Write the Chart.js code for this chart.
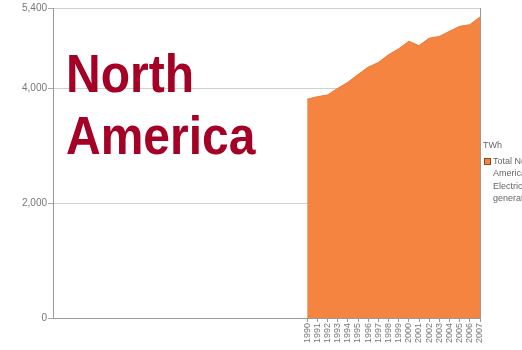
<!DOCTYPE html>
<html>
<head>
<meta charset="utf-8">
<script src="https://cdn.jsdelivr.net/npm/chart.js@4/dist/chart.umd.min.js"></script>
<style>
    html, body { margin: 0; padding: 0; background: #fff; overflow: hidden; }
    #wrap { position: relative; width: 522px; height: 350px; overflow: hidden; }
    #titulo {
        position: absolute; left: 66px; top: 43px;
        font: bold 48px "Liberation Sans", Arial, sans-serif;
        line-height: 55px; color: #a50026;
        transform: scaleY(1.12); transform-origin: 0 0;
        pointer-events: none;
    }
    #leyenda {
        position: absolute; left: 483px; top: 139px; width: 80px;
        font: 9px "Liberation Sans", Arial, sans-serif; color: #666;
        line-height: 12.5px; white-space: nowrap;
    }
    #leyenda .item { position: relative; padding-left: 10px; margin-top: 3px; }
    #leyenda .cuadro {
        position: absolute; left: 1px; top: 3px; width: 5px; height: 5px;
        background: #f4843f; border: 1px solid #8a4a20;
    }
</style>
</head>
<body>
<div id="wrap">
    <canvas id="chartGeneracion" width="522" height="350"></canvas>
    <div id="titulo">North<br>America</div>
    <div id="leyenda">
        <div>TWh</div>
        <div class="item"><span class="cuadro"></span>Total North<br>America<br>Electricity<br>generation</div>
    </div>
</div>
<script>
    // años con datos y generación total (TWh)
    const anios = ['1990', '1991', '1992', '1993', '1994', '1995', '1996', '1997', '1998',
        '1999', '2000', '2001', '2002', '2003', '2004', '2005', '2006', '2007'];
    const generacion = [3810, 3855, 3885, 4000, 4105, 4240, 4370, 4450, 4585,
        4690, 4820, 4745, 4875, 4905, 4995, 5080, 5110, 5245];
    // años vacíos al inicio del eje (sin etiqueta ni dato)
    const aniosVacios = 25;
    const ticksY = [0, 2000, 4000, 5400];

    let etiquetas = Array(aniosVacios).fill('').concat(anios);
    let datos = Array(aniosVacios).fill(null).concat(generacion);

    let ctx = document.getElementById('chartGeneracion').getContext('2d');
    let chartGeneracion = new Chart(ctx, {
        type: 'line',
        data: {
            labels: etiquetas,
            datasets: [{
                label: 'Total North America Electricity generation',
                data: datos,
                fill: 'origin',
                backgroundColor: '#f4843f',
                borderColor: '#e87a38',
                borderWidth: 1,
                pointRadius: 0,
                tension: 0,
                spanGaps: false
            }]
        },
        options: {
            responsive: false,
            animation: false,
            layout: { padding: { top: 8, right: 42, left: 0, bottom: 0 } },
            plugins: {
                legend: { display: false },
                tooltip: { enabled: false }
            },
            scales: {
                x: {
                    offset: false,
                    border: { color: '#999', width: 1 },
                    grid: {
                        drawOnChartArea: true,
                        tickLength: 4,
                        color: (c) => (c.index === etiquetas.length - 1 ? '#999' : 'transparent'),
                        tickColor: (c) => (c.tick && c.tick.label ? '#999' : 'transparent')
                    },
                    ticks: {
                        autoSkip: false,
                        minRotation: 90,
                        maxRotation: 90,
                        padding: 1,
                        color: '#777',
                        font: { family: 'Liberation Sans, Arial, sans-serif', size: 9 }
                    },
                    afterFit: (scale) => { scale.height = 32; }
                },
                y: {
                    min: 0,
                    max: 5400,
                    border: { color: '#999', width: 1 },
                    grid: { color: '#d0d0d0', tickColor: '#aaa', tickLength: 5 },
                    afterBuildTicks: (scale) => { scale.ticks = ticksY.map(v => ({ value: v })); },
                    ticks: {
                        padding: 1,
                        color: '#777',
                        font: { family: 'Liberation Sans, Arial, sans-serif', size: 10 },
                        callback: (v) => v.toLocaleString('en-US')
                    },
                    afterFit: (scale) => { scale.width = 53; }
                }
            }
        }
    });
</script>
</body>
</html>
